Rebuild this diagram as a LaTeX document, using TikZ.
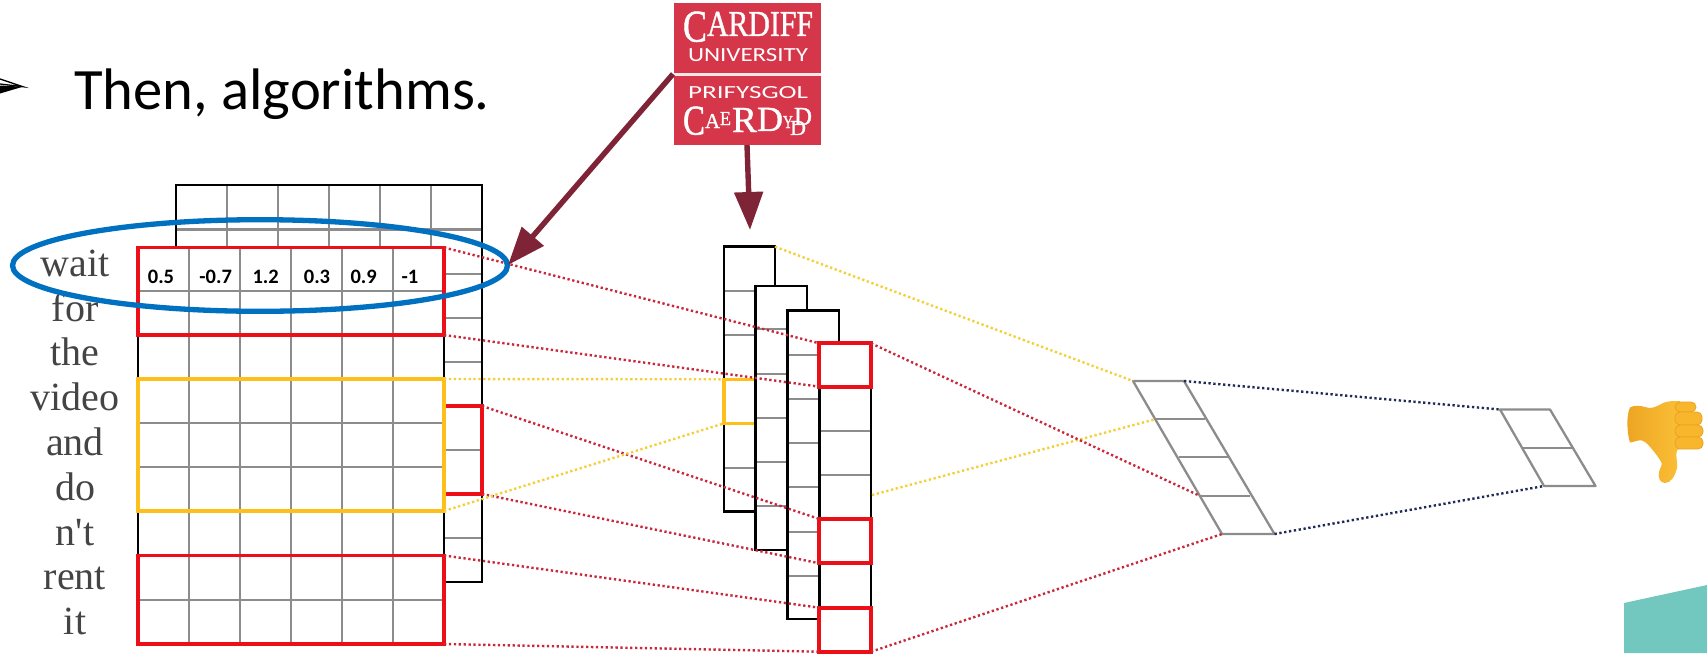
\documentclass[tikz,border=0pt]{standalone}
\usepackage{fontspec}
\usepackage{graphicx}
\usetikzlibrary{arrows.meta}
\setmainfont{Carlito}
\newfontfamily\wordfont{Liberation Serif}
\newfontfamily\logoserif[FakeBold=1.2]{Liberation Serif}
\definecolor{cred}{HTML}{EC0F17}
\definecolor{cyel}{HTML}{FDC01A}
\definecolor{dred}{HTML}{C8283C}
\definecolor{dyel}{HTML}{F4CF3A}
\definecolor{dnavy}{HTML}{1E2B57}
\definecolor{cgrey}{HTML}{8C8C8C}
\definecolor{cblue}{HTML}{0070C0}
\definecolor{cwine}{HTML}{7F2336}
\definecolor{clogo}{HTML}{D63649}
\definecolor{cteal}{HTML}{72C8BE}
\definecolor{cword}{HTML}{444444}
\definecolor{thumbdark}{HTML}{EDA522}
\definecolor{thumblight}{HTML}{FBC038}
\definecolor{thumbedge}{HTML}{E8A422}
\definecolor{thumbfing}{HTML}{F8B62D}
\newcommand{\bx}[6]{%
  \pgfmathsetlengthmacro\bxw{#5-#3}\pgfmathsetlengthmacro\bxh{#6-#4}%
  \node[#2,anchor=north west,minimum width=\bxw,minimum height=\bxh,inner sep=0pt,outer sep=0pt] (#1) at (#3,#4) {};}
% logo text piece: name, font, x1,ytop,x2,ybottom, text
\newcommand{\lgp}[7]{%
  \pgfmathsetlengthmacro\bxw{#5-#3}\pgfmathsetlengthmacro\bxh{#6-#4}%
  \node[anchor=south west,inner sep=0pt,outer sep=0pt,text=white] (#1) at (#3,#6) {\resizebox{\bxw}{\bxh}{#2\fontsize{30}{30}\selectfont #7}};}
\tikzset{
  x=1pt,y=-1pt,
  blackbox/.style={draw=black,line width=2.6pt,fill=white},
  redbox/.style={draw=cred,line width=3.8pt},
  yelbox/.style={draw=cyel,line width=3.5pt},
  gridline/.style={draw=cgrey,line width=2.3pt},
  skew/.style={draw=cgrey,line width=2.3pt,line join=round},
  dotline/.style={line width=2.4pt,dash pattern=on 2.3pt off 2.6pt},
  dotred/.style={dotline,draw=dred},
  dotyel/.style={dotline,draw=dyel},
  dotnavy/.style={dotline,draw=dnavy},
  wordlabel/.style={anchor=base,inner sep=0pt,text=cword,font=\wordfont\fontsize{40}{40}\selectfont},
  numlabel/.style={anchor=base,inner sep=0pt,font=\bfseries\fontsize{20.5}{20.5}\selectfont},
  wine/.style={draw=cwine,fill=cwine,line width=5.4pt,-{Triangle[length=38pt,width=28pt]}},
}
\begin{document}
\begin{tikzpicture}
\useasboundingbox (0,0) rectangle (1707,653);
\clip (0,0) rectangle (1707,653);
% bullet and heading
\fill[black] (0,85.5) -- (23,86.7) -- (0,93.5) -- cycle;
\draw[black,line width=1.3pt] (0,79) -- (23,86.7) -- (0,84);
\node[anchor=base west,inner sep=0pt,font=\fontsize{58.6}{58.6}\selectfont] (title) at (74,109) {Then, algorithms.};
% back matrix
\bx{back}{blackbox}{176}{185}{482}{582}
\foreach \x in {227,278,329,380,431} \draw[gridline] (\x,186) -- (\x,247);
\foreach \y in {229.5,274,317.7,361.7,450,537.7} \draw[gridline] (177,\y) -- (481,\y);
\bx{rC}{redbox}{444}{406}{482}{494}
% front matrix
\bx{front}{blackbox}{138}{247.5}{444}{644}
\foreach \x in {189,240,291,342,393} \draw[gridline] (\x,248) -- (\x,644);
\foreach \y in {291,423,467,600} \draw[gridline] (139,\y) -- (443,\y);
\bx{rA}{redbox}{138}{247.5}{444}{335}
\bx{yA}{yelbox}{138}{379}{444}{511}
\bx{rB}{redbox}{138}{555.5}{444}{644}
% words
\foreach \w/\y [count=\i] in {wait/276.7,for/321.7,the/365.7,video/410,and/455,do/500,n't/545,rent/589,it/634}
  \node[wordlabel] (word\i) at (75,\y) {\w};
% numbers
\foreach \n/\x [count=\i] in {0.5/161,-0.7/215.7,1.2/265.7,0.3/317,0.9/363.7,-1/410}
  \node[numlabel] (num\i) at (\x,283.3) {\n};
% middle stacks
\bx{s1}{blackbox}{724}{246.7}{775}{511.7}
\foreach \y in {291,335,467.7} \draw[gridline] (725,\y) -- (774,\y);
\bx{s1y}{yelbox}{724}{379.3}{775}{423.3}
\bx{s2}{blackbox}{755.7}{286}{807}{550}
\foreach \y in {329.3,374,418,462,506} \draw[gridline] (757,\y) -- (806,\y);
\bx{s3}{blackbox}{787.7}{310.7}{839}{619}
\foreach \y in {355,399,443.3,487.3,531.7,575.7} \draw[gridline] (789,\y) -- (838,\y);
\bx{s4}{blackbox}{819.3}{343.3}{871}{652}
\foreach \y in {431,475} \draw[gridline] (820.5,\y) -- (870,\y);
\bx{m1}{redbox}{819.3}{343.3}{871}{386.7}
\bx{m2}{redbox}{819.3}{519}{871}{563.3}
\bx{m3}{redbox}{819.3}{607.7}{871}{651.7}
% skewed layers
\coordinate (p1tl) at (1133,381);
\coordinate (p1tr) at (1184,381);
\coordinate (p1bl) at (1222,534);
\coordinate (p1br) at (1274.5,534);
\coordinate (p1a) at (1155,419.3);
\coordinate (p1c) at (1199.5,495.7);
\draw[skew] (p1tl) -- (p1tr) -- (p1br) -- (p1bl) -- cycle;
\draw[skew] (p1a) -- (1205,419.3);
\draw[skew] (1178.5,457) -- (1228,457);
\draw[skew] (p1c) -- (1250,495.7);
\coordinate (p2tl) at (1500,409.5);
\coordinate (p2tr) at (1550,409.5);
\coordinate (p2bl) at (1544,486);
\coordinate (p2br) at (1595.5,486);
\draw[skew] (p2tl) -- (p2tr) -- (p2br) -- (p2bl) -- cycle;
\draw[skew] (1523,447.7) -- (1572,447.7);
% dotted connectors
\coordinate (s4r) at (872,495);
\draw[dotred] (rA.north east) -- (m1.north west);
\draw[dotred] (rA.south east) -- (m1.south west);
\draw[dotred] (rC.north east) -- (m2.north west);
\draw[dotred] (rC.south east) -- (m2.south west);
\draw[dotred] (rB.north east) -- (m3.north west);
\draw[dotred] (rB.south east) -- (m3.south west);
\draw[dotyel] (yA.north east) -- (s1y.north west);
\draw[dotyel] (yA.south east) -- (s1y.south west);
\draw[dotyel] (s1.north east) -- (p1tl);
\draw[dotyel] (s4r) -- (p1a);
\draw[dotred] (m1.north east) -- (p1c);
\draw[dotred] (m3.south east) -- (p1bl);
\draw[dotnavy] (p1tr) -- (p2tl);
\draw[dotnavy] (p1br) -- (p2bl);
% ellipse
\draw[cblue,line width=5.3pt] (260,265.5) ellipse [x radius=247.5,y radius=45.8];
% logo
\bx{logo}{fill=clogo}{674}{3}{821}{145}
\bx{logoband}{fill=white!88!clogo}{674}{72.5}{821}{75.8}
\lgp{la}{\logoserif}{683}{12}{707}{42}{C}
\lgp{lb}{\logoserif}{707}{12}{813}{36}{ARDIFF}
\lgp{lc}{}{688}{49}{808}{62}{UNIVERSITY}
\lgp{ld}{}{688}{87}{808}{99}{PRIFYSGOL}
\lgp{le}{\logoserif}{683}{107}{705}{135}{C}
\lgp{lf}{\logoserif}{705}{114}{720}{128}{A}
\lgp{lg}{\logoserif}{720}{112}{731}{125}{E}
\lgp{lh}{\logoserif}{732}{108}{757}{132}{R}
\lgp{li}{\logoserif}{757}{108}{783}{131}{D}
\lgp{lj}{\logoserif}{783}{116}{793}{128}{Y}
\lgp{lk}{\logoserif}{794}{108}{812}{125}{D}
\lgp{ll}{\logoserif}{790}{121}{806}{135}{D}
% arrows
\coordinate (tipA) at (508,265);
\coordinate (tipB) at (750,230);
\coordinate (logoA) at (673,74);
\coordinate (logoB) at (747,145);
\draw[wine] (logoA) -- (tipA);
\draw[wine] (logoB) -- (tipB);
% teal corner
\fill[cteal] (1624,603) -- (1707,585) -- (1707,653) -- (1624,653) -- cycle;
% thumbs-down
\path[left color=thumbdark,right color=thumblight]
  (1630,407.5) .. controls (1634,405) and (1640,405.5) .. (1645,407)
  .. controls (1651,409.5) and (1656,407) .. (1663,403)
  .. controls (1668,401) and (1673,401) .. (1680,401)
  -- (1683,448) -- (1677,450)
  .. controls (1675,456) and (1678,462) .. (1677,468)
  .. controls (1675,476) and (1671,483) .. (1665,483)
  .. controls (1659,483) and (1658,476) .. (1659,472)
  .. controls (1660,466) and (1664,466) .. (1660,460)
  .. controls (1656,454) and (1650,446) .. (1645,442)
  .. controls (1640,438) and (1636,442) .. (1630,442.5)
  .. controls (1627,434) and (1626,415) .. (1630,407.5) -- cycle;
\foreach \a/\b/\c/\d in {1675/402/1696/412,1675/412/1702/425,1675/425/1703/437,1675/437/1703/449}
  \draw[draw=thumbedge,fill=thumbfing,line width=.8pt,rounded corners=5pt] (\a,\b) rectangle (\c,\d);
\end{tikzpicture}
\end{document}
